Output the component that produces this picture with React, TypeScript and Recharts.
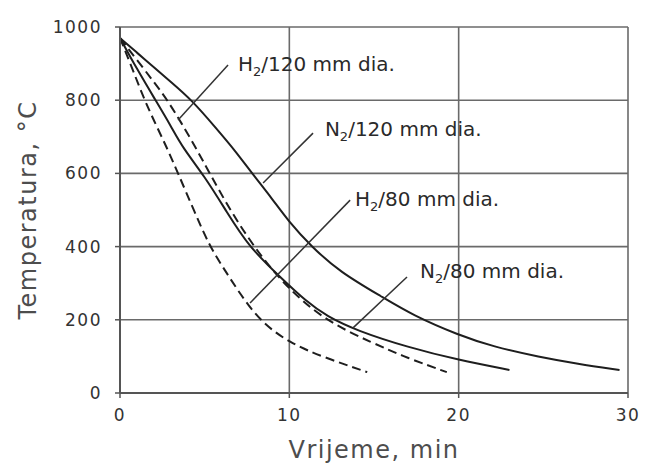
import React from "react";
import {
  CartesianGrid,
  Label,
  Line,
  LineChart,
  ReferenceDot,
  ReferenceLine,
  XAxis,
  YAxis,
} from "recharts";

// time (min) / temperature (°C)
const n2_120_t = [0, 1, 2, 3, 4.25, 5.7, 6.8, 7.8, 9, 9.9, 11.3, 13, 15.5, 17.3, 20, 22, 24.8, 27, 29.5];
const n2_120_v = [970, 930, 890, 850, 800, 722, 662, 600, 530, 472, 400, 330, 262, 212, 158, 127, 98, 80, 63];

const n2_80_t = [0, 1, 2.1, 3, 3.7, 5, 6.3, 7.6, 9.45, 11, 12.2, 14, 17, 20, 23];
const n2_80_v = [970, 885, 800, 730, 670, 592, 495, 400, 317, 250, 210, 170, 125, 90, 63];

const h2_120_t = [0, 1, 2, 2.8, 3.6, 4.55, 5.3, 6.5, 7.9, 9.6, 12, 14.9, 17, 19.3];
const h2_120_v = [970, 910, 850, 800, 740, 664, 600, 500, 400, 300, 200, 137, 95, 57];

const h2_80_t = [0, 0.7, 1.4, 2.1, 2.83, 3.43, 4.4, 5.3, 6.2, 7.1, 8.3, 10, 12, 14.6];
const h2_80_v = [970, 890, 805, 735, 664, 600, 495, 400, 335, 270, 195, 137, 98, 57];

const xTicks = [0, 10, 20, 30];
const yTicks = [0, 200, 400, 600, 800, 1000];

const toPoints = (ts: number[], vs: number[]) => ts.map((t, i) => ({ t, v: vs[i] }));

const n2_120 = toPoints(n2_120_t, n2_120_v);
const n2_80 = toPoints(n2_80_t, n2_80_v);
const h2_120 = toPoints(h2_120_t, h2_120_v);
const h2_80 = toPoints(h2_80_t, h2_80_v);

// annotation text anchors and leader lines (data coords)
const notes = [
  { gas: "H", rest: "/120 mm dia.", x: 6.97, y: 880, from: { x: 6.38, y: 896 }, to: { x: 3.43, y: 746 } },
  { gas: "N", rest: "/120 mm dia.", x: 12.1, y: 702, from: { x: 11.4, y: 710 }, to: { x: 8.45, y: 574 } },
  { gas: "H", rest: "/80 mm dia.", x: 13.88, y: 511, from: { x: 13.59, y: 527 }, to: { x: 7.68, y: 246 } },
  { gas: "N", rest: "/80 mm dia.", x: 17.72, y: 314, from: { x: 16.95, y: 317 }, to: { x: 13.76, y: 178 } },
];

const FONT = "DejaVu Sans";
const INK = "#1e1e1e";

function NoteText({ cx, cy, gas, rest }: any) {
  return (
    <text x={cx} y={cy} fontFamily={FONT} fontSize={20} fill="#2a2a2a">
      <tspan>{gas}</tspan>
      <tspan dy={5} fontSize={13}>2</tspan>
      <tspan dy={-5}>{rest}</tspan>
    </text>
  );
}

export default function App() {
  return (
    <div style={{ position: "absolute", left: 0, top: 0, background: "#fff" }}>
      <LineChart width={648} height={473} margin={{ top: 27, right: 20, left: 0, bottom: 0 }}>
        <CartesianGrid stroke="#6a6a6a" strokeWidth={1.6} horizontalValues={yTicks} verticalValues={xTicks} />
        <XAxis
          type="number"
          dataKey="t"
          domain={[0, 30]}
          ticks={xTicks}
          height={80}
          tickSize={5}
          tickMargin={11}
          axisLine={{ stroke: "#555", strokeWidth: 2 }}
          tickLine={{ stroke: "#555", strokeWidth: 1.5 }}
          tick={{ fill: "#333", fontSize: 17, fontFamily: FONT, letterSpacing: 1.5 }}
        >
          <Label
            value="Vrijeme, min"
            position="insideBottom"
            offset={15}
            style={{ fill: "#4d4d4d", fontSize: 24, fontFamily: FONT, letterSpacing: 1.5 }}
          />
        </XAxis>
        <YAxis
          type="number"
          domain={[0, 1000]}
          ticks={yTicks}
          width={120}
          tickSize={5}
          tickMargin={13}
          axisLine={{ stroke: "#555", strokeWidth: 2 }}
          tickLine={{ stroke: "#555", strokeWidth: 1.5 }}
          tick={{ fill: "#333", fontSize: 17, fontFamily: FONT, letterSpacing: 1.5 }}
        >
          <Label
            value="Temperatura, °C"
            angle={-90}
            position="insideLeft"
            offset={27}
            style={{ fill: "#4d4d4d", fontSize: 24, fontFamily: FONT, letterSpacing: 1.5, textAnchor: "middle" }}
          />
        </YAxis>

        <Line data={n2_120} dataKey="v" type="basis" stroke={INK} strokeWidth={2} dot={false} isAnimationActive={false} />
        <Line data={n2_80} dataKey="v" type="basis" stroke={INK} strokeWidth={2} dot={false} isAnimationActive={false} />
        <Line data={h2_120} dataKey="v" type="basis" stroke={INK} strokeWidth={2} strokeDasharray="9 5" dot={false} isAnimationActive={false} />
        <Line data={h2_80} dataKey="v" type="basis" stroke={INK} strokeWidth={2} strokeDasharray="9 5" dot={false} isAnimationActive={false} />

        {notes.map((n, i) => (
          <ReferenceLine key={"l" + i} segment={[n.from, n.to]} stroke="#333" strokeWidth={1.5} ifOverflow="visible" />
        ))}
        {notes.map((n, i) => (
          <ReferenceDot
            key={"t" + i}
            x={n.x}
            y={n.y}
            r={1}
            ifOverflow="visible"
            shape={(p: any) => <NoteText cx={p.cx} cy={p.cy} gas={n.gas} rest={n.rest} />}
          />
        ))}
      </LineChart>
    </div>
  );
}
